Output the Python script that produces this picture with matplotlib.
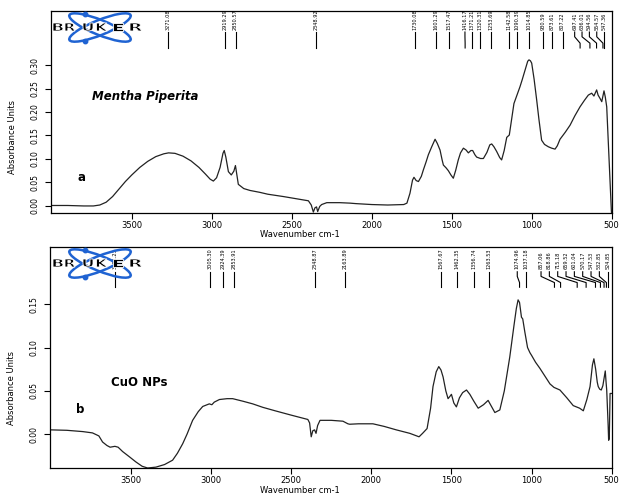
import matplotlib
matplotlib.use("Agg")
import matplotlib.pyplot as plt
from matplotlib.patches import Ellipse, PathPatch
from matplotlib.textpath import TextPath
from matplotlib.font_manager import FontProperties
from matplotlib.transforms import Affine2D

# ---- spectrum a : Mentha Piperita ----
wn_a = [4000, 3900, 3800, 3740, 3700, 3660, 3620, 3580, 3540, 3500, 3450, 3400, 3350, 3300,
        3270, 3230, 3180, 3130, 3080, 3040, 3010, 2990, 2970, 2948, 2930, 2922, 2912, 2896,
        2878, 2862, 2852, 2845, 2834, 2800, 2761, 2700, 2650, 2552, 2450, 2396, 2378, 2365,
        2355, 2345, 2338, 2325, 2313, 2281, 2200, 2136, 2100, 2000, 1900, 1800, 1780, 1761,
        1745, 1736, 1722, 1708, 1690, 1677, 1660, 1646, 1625, 1604, 1590, 1573, 1560, 1552,
        1535, 1521, 1505, 1490, 1475, 1459, 1445, 1427, 1410, 1396, 1380, 1369, 1355, 1344,
        1320, 1302, 1280, 1262, 1250, 1236, 1219, 1200, 1188, 1172, 1156, 1140, 1125, 1111,
        1092, 1073, 1060, 1042, 1025, 1017, 1008, 1000, 985, 969, 955, 938, 920, 896, 875,
        854, 840, 823, 790, 760, 730, 698, 670, 646, 625, 611, 594, 585, 573, 562, 548, 540,
        531, 519, 510, 506, 502, 500]
abs_a = [0.001, 0.001, 0.000, 0.000, 0.002, 0.008, 0.020, 0.036, 0.052, 0.066, 0.082, 0.095,
         0.105, 0.111, 0.113, 0.112, 0.106, 0.096, 0.082, 0.068, 0.057, 0.053, 0.060, 0.082,
         0.112, 0.118, 0.104, 0.073, 0.066, 0.074, 0.086, 0.070, 0.046, 0.037, 0.033, 0.029,
         0.025, 0.020, 0.014, 0.011, 0.002, -0.013, -0.004, -0.002, -0.012, -0.001, 0.003,
         0.007, 0.007, 0.006, 0.005, 0.003, 0.002, 0.003, 0.006, 0.027, 0.055, 0.061, 0.054,
         0.052, 0.063, 0.077, 0.094, 0.109, 0.126, 0.142, 0.133, 0.119, 0.098, 0.087, 0.081,
         0.075, 0.066, 0.059, 0.076, 0.098, 0.113, 0.123, 0.119, 0.113, 0.118, 0.118, 0.109,
         0.104, 0.101, 0.101, 0.114, 0.130, 0.132, 0.126, 0.116, 0.103, 0.098, 0.118, 0.146,
         0.151, 0.185, 0.218, 0.236, 0.254, 0.268, 0.289, 0.308, 0.311, 0.309, 0.304, 0.270,
         0.226, 0.185, 0.140, 0.131, 0.126, 0.123, 0.121, 0.128, 0.142, 0.157, 0.172, 0.192,
         0.211, 0.225, 0.236, 0.240, 0.234, 0.247, 0.236, 0.229, 0.222, 0.245, 0.232, 0.211,
         0.119, 0.050, 0.020, -0.010, -0.020]

# ---- spectrum b : CuO NPs ----
wn_b = [4000, 3900, 3800, 3740, 3700, 3677, 3650, 3630, 3600, 3580, 3552, 3510, 3469, 3430,
        3396, 3344, 3290, 3240, 3210, 3177, 3150, 3115, 3080, 3052, 3011, 2995, 2980, 2948,
        2900, 2865, 2800, 2740, 2677, 2600, 2500, 2396, 2385, 2375, 2365, 2354, 2345, 2335,
        2320, 2250, 2177, 2146, 2135, 2080, 1990, 1920, 1844, 1760, 1702, 1680, 1652, 1630,
        1615, 1595, 1579, 1565, 1552, 1535, 1521, 1508, 1500, 1485, 1469, 1450, 1430, 1406,
        1385, 1360, 1333, 1300, 1271, 1250, 1229, 1198, 1170, 1136, 1110, 1095, 1084, 1075,
        1063, 1055, 1042, 1025, 1010, 1000, 975, 948, 920, 885, 860, 823, 780, 740, 700, 677,
        655, 635, 620, 611, 600, 590, 584, 575, 565, 555, 540, 535, 531, 522, 519, 515, 510, 500]
abs_b = [0.005, 0.0045, 0.003, 0.0015, -0.002, -0.009, -0.013, -0.015, -0.014, -0.015, -0.020,
         -0.026, -0.032, -0.037, -0.039, -0.038, -0.035, -0.030, -0.022, -0.011, 0.000, 0.016,
         0.026, 0.032, 0.035, 0.034, 0.037, 0.040, 0.041, 0.041, 0.038, 0.035, 0.031, 0.027,
         0.022, 0.017, 0.013, -0.003, 0.004, 0.005, 0.001, 0.010, 0.016, 0.016, 0.015, 0.012,
         0.0115, 0.012, 0.012, 0.009, 0.005, 0.001, -0.003, 0.001, 0.0065, 0.030, 0.055, 0.072,
         0.078, 0.074, 0.066, 0.050, 0.041, 0.044, 0.046, 0.036, 0.0315, 0.042, 0.048, 0.051,
         0.046, 0.038, 0.030, 0.034, 0.039, 0.032, 0.025, 0.028, 0.050, 0.089, 0.125, 0.145,
         0.155, 0.152, 0.135, 0.133, 0.118, 0.100, 0.094, 0.091, 0.083, 0.076, 0.068, 0.058,
         0.054, 0.051, 0.042, 0.033, 0.030, 0.027, 0.040, 0.055, 0.080, 0.087, 0.075, 0.060,
         0.055, 0.052, 0.051, 0.056, 0.073, 0.060, 0.051, 0.010, -0.007, -0.005, 0.047, 0.047]

# peak picks printed by the OPUS software
peaks_a = ["3271.08", "2919.29", "2850.57", "2348.92", "1730.08", "1601.29", "1517.47",
           "1416.17", "1371.21", "1320.31", "1253.69", "1142.58", "1090.39", "1014.85",
           "930.59", "873.61", "807.22", "697.41", "636.01", "594.56", "554.57", "547.36"]
peaks_b = ["3601.23", "3005.30", "2924.39", "2853.91", "2348.87", "2163.89", "1567.67",
           "1462.35", "1356.74", "1263.53", "1074.96", "1037.18", "857.06", "818.86",
           "715.18", "659.52", "601.04", "570.17", "547.53", "532.85", "524.85"]

xticks = [3500, 3000, 2500, 2000, 1500, 1000, 500]
yticks_a = [0.00, 0.05, 0.10, 0.15, 0.20, 0.25, 0.30]
yticks_b = [0.00, 0.05, 0.10, 0.15]

narrow = ["Liberation Sans Narrow", "DejaVu Sans"]
logo_blue = "#1f63d2"


def spread(peaks, gap):
    # push crowded labels to the left so they don't overlap
    pos = {}
    last = None
    for p in sorted(float(s) for s in peaks):
        q = p if last is None or p >= last + gap else last + gap
        pos[p] = q
        last = q
    return pos


def peak_labels(ax, peaks, gap, y_text, y_top, y_bot):
    pos = spread(peaks, gap)
    tr = ax.get_xaxis_transform()
    for s in peaks:
        xt = float(s)
        xl = pos[xt]
        dy = (y_top - y_bot)
        ax.plot([xl, xl, xt, xt], [y_top, y_top - 0.3 * dy, y_top - 0.7 * dy, y_bot],
                color="black", lw=0.8, transform=tr, clip_on=False, zorder=3)
        ax.text(xl, y_text, s, rotation=90, ha="center", va="bottom", fontsize=3.6,
                family=narrow, transform=tr, clip_on=False)


def bruker_logo(fig, left_px, top_px):
    # logo axes: 1 data unit = 1 pixel
    lax = fig.add_axes([left_px / 620, 1 - (top_px + 35) / 495, 100 / 620, 35 / 495])
    lax.set_xlim(0, 100)
    lax.set_ylim(0, 35)
    lax.axis("off")
    for ang in (22, -22):
        lax.add_patch(Ellipse((50, 17.5), 66, 15, angle=ang, fill=False,
                              ec=logo_blue, lw=1.8))
    lax.plot([35, 35], [31, 4.5], "o", color=logo_blue, ms=3.2, ls="none")
    fp = FontProperties(family="DejaVu Sans", weight="bold")
    for ch, xc, w in zip("BRUKER", [8, 20, 38, 52, 68, 86], [10, 10, 10, 11, 10, 12]):
        tp = TextPath((0, 0), ch, size=10, prop=fp)
        bb = tp.get_extents()
        tf = (Affine2D().translate(-bb.x0 - bb.width / 2, -bb.y0 - bb.height / 2)
              .scale(w / bb.width, 8 / bb.height).translate(xc, 18))
        lax.add_patch(PathPatch(tf.transform_path(tp), fc="black", ec="white", lw=0.6))


fig = plt.figure(figsize=(6.2, 4.95), dpi=100)
ax1 = fig.add_axes([51 / 620, 1 - 213 / 495, 561 / 620, 202 / 495])
ax2 = fig.add_axes([50 / 620, 1 - 468 / 495, 562 / 620, 221 / 495])

panels = [
    (ax1, wn_a, abs_a, yticks_a, (-0.015, 0.415), peaks_a, 46, (0.906, 0.896, 0.817)),
    (ax2, wn_b, abs_b, yticks_b, (-0.039, 0.216), peaks_b, 52, (0.900, 0.888, 0.818)),
]

for ax, wn, ab, yt, ylim, pk, gap, ly in panels:
    ax.plot(wn, ab, color="#222222", lw=0.9)
    ax.set_xlim(4005, 498)
    ax.set_ylim(*ylim)
    ax.set_xticks(xticks)
    ax.set_yticks(yt)
    ax.set_yticklabels(["%.2f" % v for v in yt], rotation=90, va="center",
                       family=narrow, fontsize=5.5)
    ax.tick_params(axis="x", length=4, width=0.8, pad=2, labelsize=6)
    ax.tick_params(axis="y", length=4, width=0.8, pad=4)
    for sp in ax.spines.values():
        sp.set_linewidth(0.9)
    ax.set_xlabel("Wavenumber cm-1", fontsize=6, labelpad=1)
    ax.xaxis.set_label_coords(0.444, -0.085 if ax is ax1 else -0.08)
    ax.set_ylabel("Absorbance Units", fontsize=6, family=narrow)
    peak_labels(ax, pk, gap, *ly)

ax1.yaxis.set_label_coords(-0.061, 0.376)
ax2.yaxis.set_label_coords(-0.061, 0.362)

ax1.text(0.073, 0.56, "Mentha Piperita", transform=ax1.transAxes, fontsize=8.5,
         fontweight="bold", style="italic")
ax1.text(0.047, 0.16, "a", transform=ax1.transAxes, fontsize=8.5, fontweight="bold")
ax2.text(0.109, 0.37, "CuO NPs", transform=ax2.transAxes, fontsize=8.5, fontweight="bold")
ax2.text(0.047, 0.25, "b", transform=ax2.transAxes, fontsize=8.5, fontweight="bold")

bruker_logo(fig, 50, 10)
bruker_logo(fig, 50, 246)

plt.savefig("out.png", dpi=100)
